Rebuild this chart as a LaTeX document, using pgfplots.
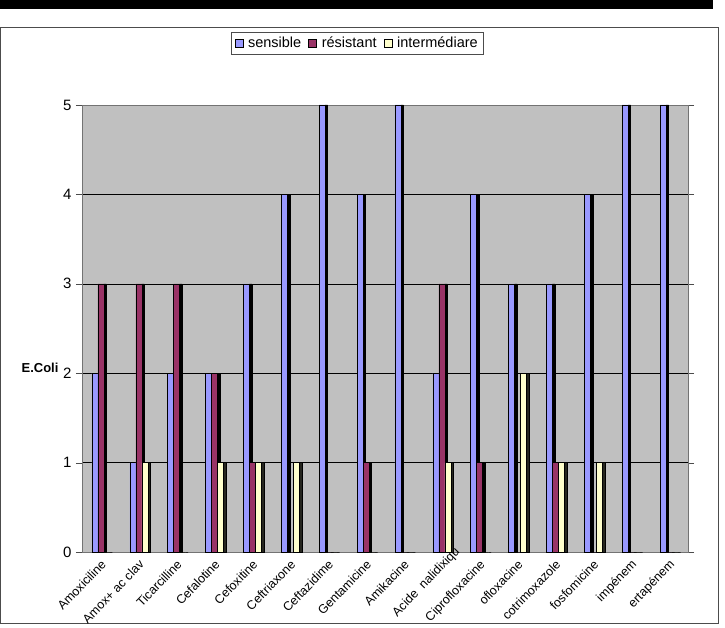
\documentclass[border=0pt]{standalone}
\usepackage{pgfplots}
\pgfplotsset{compat=1.18}
\usepackage{pgfplotstable}
\usepackage{fontspec}
\setmainfont{Liberation Sans}
\definecolor{sens}{RGB}{153,153,255}
\definecolor{resi}{RGB}{153,51,102}
\definecolor{inte}{RGB}{255,255,204}
\definecolor{wall}{RGB}{192,192,192}
\pgfplotstableread{
x s r i
0 2 3 0
1 1 3 1
2 2 3 0
3 2 2 1
4 3 1 1
5 4 0 1
6 5 0 0
7 4 1 0
8 5 0 0
9 2 3 1
10 4 1 0
11 3 0 2
12 3 1 1
13 4 0 1
14 5 0 0
15 5 0 0
}\data
\begin{document}
\begin{tikzpicture}[x=1pt,y=1pt]
\useasboundingbox (0,0) rectangle (725,627);
\fill[black] (0,618) rectangle (713,627);
\draw[line width=0.8pt, black!70] (0.5,4) rectangle (718,600);
\begin{axis}[
  at={(82pt,75pt)}, anchor=south west,
  width=606pt, height=447pt, scale only axis,
  xmin=-0.5, xmax=15.5, ymin=0, ymax=5,
  axis background/.style={fill=wall},
  axis line style={black!55},
  ymajorgrids, major grid style={black, line width=0.6pt},
  ytick={0,1,2,3,4,5},
  yticklabel style={font=\fontsize{15}{17}\selectfont, xshift=-1pt},
  ytick style={black!70}, tick align=outside, major tick length=6pt,
  xtick=data, xtick style={draw=none},
  xticklabels={Amoxiciline, Amox+ ac clav, Ticarcilline, Cefalotine, Cefoxitine, Ceftriaxone, Ceftazidime, Gentamicine, Amikacine, {Acide\ \ nalidixiqu\hspace*{-18pt}}, Ciprofloxacine, ofloxacine, cotrimoxazole, fosfomicine, impénem, ertapénem},
  xticklabel style={rotate=46, anchor=north east, font=\fontsize{12.5}{14}\selectfont, inner sep=1pt, xshift=0pt, yshift=1pt},
  /pgf/number format/assume math mode=true,
  ybar, bar width=6pt,
  legend style={at={(0.454,1.139)}, anchor=center, legend columns=3, draw=black!70, font=\fontsize{14.5}{16}\selectfont, inner xsep=3pt, inner ysep=3pt, /tikz/every even column/.append style={column sep=5pt}},
  legend image code/.code={\draw[#1, draw=black, line width=0.6pt] (0pt,-4pt) rectangle (8pt,4pt); \path (11pt,0pt);},
]
\addplot[fill=black, draw=black, bar shift=-1.75pt, bar width=2.5pt, forget plot] table[x=x,y=s]{\data};
\addplot[fill=black, draw=black, bar shift=4.25pt, bar width=2.5pt, forget plot] table[x=x,y=r]{\data};
\addplot[fill=black!85!inte, draw=black, bar shift=10.25pt, bar width=2.5pt, forget plot] table[x=x,y=i]{\data};
\addplot[fill=sens, draw=black, line width=0.5pt, bar shift=-6pt] table[x=x,y=s]{\data};
\addplot[fill=resi, draw=black, line width=0.5pt, bar shift=0pt] table[x=x,y=r]{\data};
\addplot[fill=inte, draw=black, line width=0.5pt, bar shift=6pt] table[x=x,y=i]{\data};
\legend{sensible, résistant, intermédiare}
\end{axis}
\node[font=\bfseries\fontsize{13}{15}\selectfont] at (40,259) {E.Coli};
\end{tikzpicture}
\end{document}
